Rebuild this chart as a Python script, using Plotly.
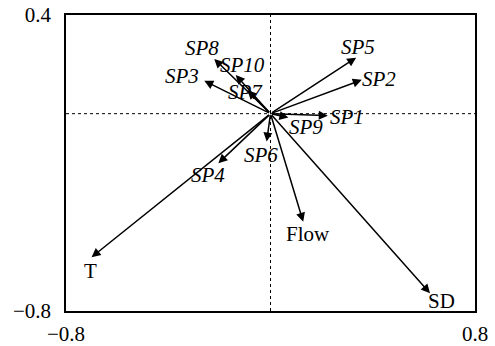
import plotly.graph_objects as go

# arrow tips
species = ["SP1", "SP2", "SP3", "SP4", "SP5", "SP6", "SP7", "SP8", "SP9", "SP10"]
sp_x = [0.224, 0.357, -0.259, -0.204, 0.335, -0.015, -0.09, -0.22, 0.07, -0.136]
sp_y = [-0.008, 0.137, 0.133, -0.201, 0.227, -0.113, 0.095, 0.222, -0.016, 0.157]
# label positions
sp_lx = [0.298, 0.424, -0.346, -0.243, 0.344, -0.037, -0.096, -0.268, 0.139, -0.109]
sp_ly = [-0.012, 0.141, 0.153, -0.248, 0.272, -0.167, 0.089, 0.266, -0.053, 0.197]

env = ["T", "Flow", "SD"]
env_x = [-0.70, 0.128, 0.624]
env_y = [-0.582, -0.438, -0.728]
env_lx = [-0.703, 0.148, 0.67]
env_ly = [-0.636, -0.489, -0.759]

font = "Liberation Serif"

fig = go.Figure()
fig.add_trace(go.Scatter(x=[0], y=[0], mode="markers", marker=dict(size=1, color="black"),
                         showlegend=False, hoverinfo="skip"))

# dotted axes through the origin
fig.add_shape(type="line", x0=-0.8, x1=0.8, y0=0, y1=0,
              line=dict(color="black", width=1, dash="dot"))
fig.add_shape(type="line", x0=0, x1=0, y0=-0.8, y1=0.4,
              line=dict(color="black", width=1, dash="dot"))

for x, y in zip(env_x + sp_x, env_y + sp_y):
    fig.add_annotation(x=x, y=y, ax=0, ay=0, xref="x", yref="y", axref="x", ayref="y",
                       text="", showarrow=True, arrowhead=2, arrowsize=1.2,
                       arrowwidth=1.5, arrowcolor="black")

for name, x, y in zip(species, sp_lx, sp_ly):
    fig.add_annotation(x=x, y=y, text="<i>" + name + "</i>", showarrow=False,
                       font=dict(family=font, size=21, color="black"))
for name, x, y in zip(env, env_lx, env_ly):
    fig.add_annotation(x=x, y=y, text=name, showarrow=False,
                       font=dict(family=font, size=21, color="black"))

fig.update_xaxes(range=[-0.8, 0.8], tickvals=[-0.8, 0.8], ticktext=["\u22120.8", "0.8"],
                 showgrid=False, zeroline=False, showline=True, mirror=True, automargin=False,
                 linecolor="black", linewidth=1.5, ticks="", ticklabelstandoff=3)
fig.update_yaxes(range=[-0.8, 0.4], tickvals=[-0.8, 0.4], ticktext=["\u22120.8", "0.4"],
                 showgrid=False, zeroline=False, showline=True, mirror=True, automargin=False,
                 linecolor="black", linewidth=1.5, ticks="", ticklabelstandoff=9)

fig.update_layout(
    width=495, height=346,
    margin=dict(l=66, r=20, t=15, b=35),
    plot_bgcolor="white", paper_bgcolor="white",
    font=dict(family=font, size=21, color="black"),
    showlegend=False,
)

# drop the default 8px body margin so the figure sits at the window corner
fig.write_html("out.html", config={"displayModeBar": False},
               post_script="document.body.style.margin = '0';")
